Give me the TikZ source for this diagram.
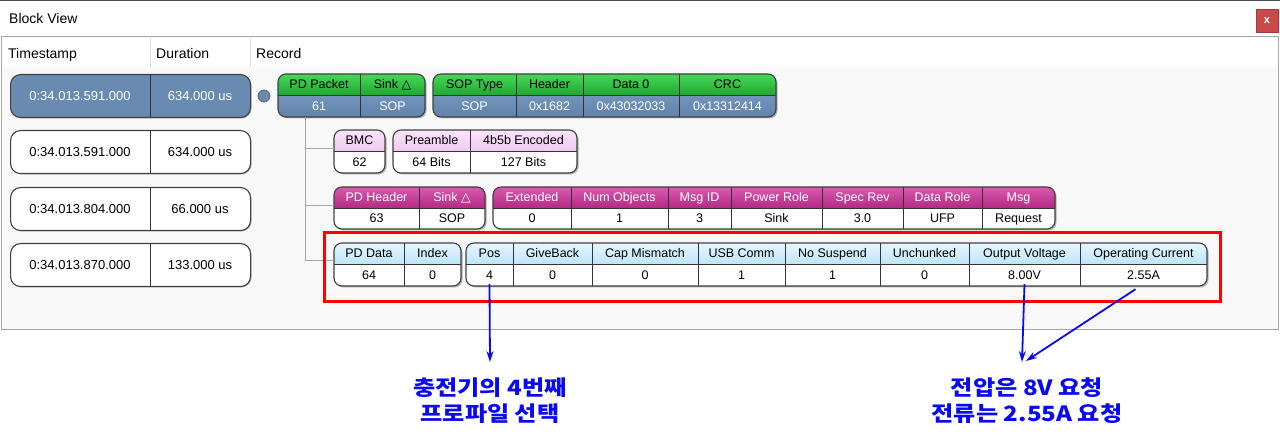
\documentclass[tikz,border=0pt]{standalone}
\usepackage{fontspec}
\setmainfont{Liberation Sans}
\newfontfamily\symfont{DejaVu Sans}
\newfontfamily\krfont{Noto Sans CJK KR}[FakeStretch=1.15]
\usetikzlibrary{arrows.meta}

\definecolor{steel}{HTML}{6A8BB1}
\definecolor{steelA}{HTML}{7393BA}
\definecolor{steelB}{HTML}{6083AB}
\definecolor{greenA}{HTML}{46D856}
\definecolor{greenB}{HTML}{1EA634}
\definecolor{magA}{HTML}{D85AAE}
\definecolor{magB}{HTML}{B42A84}
\definecolor{lavA}{HTML}{FAE4FA}
\definecolor{lavB}{HTML}{EEC8F0}
\definecolor{skyA}{HTML}{E6F6FE}
\definecolor{skyB}{HTML}{BCE4F8}
\definecolor{panelbg}{HTML}{F8F8F8}
\definecolor{closered}{HTML}{C94A4A}
\definecolor{noteblue}{HTML}{0A0AF0}

\tikzset{
  cellline/.style={draw=black!80, line width=0.9pt},
  boxframe/.style={draw=black!75, line width=1.1pt, rounded corners=8},
  boxshadow/.style={fill=black!30, rounded corners=8},
  treeline/.style={draw=black!35, line width=0.8pt},
  celltext/.style={inner sep=0, text height=9pt, text depth=0.5pt, font=\fontsize{12.5}{14}\selectfont},
  % packet row: green head, steel body
  pkthead/.style={top color=greenA, bottom color=greenB},
  pktbody/.style={top color=steelA, bottom color=steelB},
  pkthtext/.style={celltext, text=black},
  pktbtext/.style={celltext, text=white},
  % bmc row: lavender head
  phyhead/.style={top color=lavA, bottom color=lavB},
  phybody/.style={fill=white},
  phyhtext/.style={celltext, text=black},
  phybtext/.style={celltext, text=black},
  % header row: magenta head
  hdrhead/.style={top color=magA, bottom color=magB},
  hdrbody/.style={fill=white},
  hdrhtext/.style={celltext, text=white},
  hdrbtext/.style={celltext, text=black},
  % data row: light blue head
  dathead/.style={top color=skyA, bottom color=skyB},
  datbody/.style={fill=white},
  dathtext/.style={celltext, text=black},
  datbtext/.style={celltext, text=black},
  stampbox/.style={draw=black!75, line width=1.1pt, rounded corners=10, minimum width=240pt, minimum height=43pt, inner sep=0},
  stamptext/.style={inner sep=0, text height=9.5pt, text depth=0pt, font=\fontsize{13}{15}\selectfont},
  colhead/.style={anchor=base west, inner sep=0, font=\fontsize{14}{16}\selectfont},
  note/.style={align=center, inner sep=0, text=noteblue, font=\krfont\bfseries\fontsize{21}{26}\selectfont},
  callout/.style={draw=noteblue, line width=1.8pt, -{Stealth[length=11pt,width=7pt]}}
}

% #1 name, #2 kind, #3 left, #4 right, #5 top, #6 bottom, #7 cells
\newcommand{\recbox}[7]{%
  \fill[boxshadow] (#3+1.5,#5+1.5) rectangle (#4+1.5,#6+1.5);
  \begin{scope}
    \clip[rounded corners=8] (#3,#5) rectangle (#4,#6);
    \path[#2body] (#3,{(#5+#6)/2}) rectangle (#4,#6);
    \shade[#2head] (#3,#5) rectangle (#4,{(#5+#6)/2});
  \end{scope}
  \draw[cellline] (#3,{(#5+#6)/2}) -- (#4,{(#5+#6)/2});
  \foreach \xa/\xb/\th/\tb [count=\i] in {#7} {
    \ifnum\i>1 \draw[cellline] (\xa,#5) -- (\xa,#6); \fi
    \node[#2htext] (#1h\i) at ({(\xa+\xb)/2},{(3*#5+#6)/4}) {\th};
    \node[#2btext] (#1b\i) at ({(\xa+\xb)/2},{(#5+3*#6)/4}) {\tb};
  }
  \draw[boxframe] (#3,#5) rectangle (#4,#6);
  \node[inner sep=0, minimum width={(#4-#3)*1pt}, minimum height={(#6-#5)*1pt}] (#1) at ({(#3+#4)/2},{(#5+#6)/2}) {};
}

\begin{document}
\begin{tikzpicture}[x=1pt, y=-1pt]
\useasboundingbox (0,0) rectangle (1280,446);
\fill[white] (0,0) rectangle (1280,446);

% window
\fill[black!70] (0,0) rectangle (1280,1.5);
\node[colhead] (title) at (9,23.5) {Block View};
\node[fill=closered, draw=closered!80!black, minimum width=22pt, minimum height=23pt, inner sep=0,
      text=white, font=\bfseries\fontsize{11}{12}\selectfont] (close) at (1267,20.5) {x};
\fill[panelbg] (1,37) rectangle (1278,330);
\fill[white] (1,38) rectangle (1278,67);
\draw[black!35, line width=1pt] (1,37) rectangle (1278,330);
\draw[black!12] (150,38) -- (150,67);
\draw[black!12] (250,38) -- (250,67);
\node[colhead] (colts) at (8,58.5) {Timestamp};
\node[colhead] (coldu) at (156,58.5) {Duration};
\node[colhead] (colrec) at (256,58.5) {Record};

% Timestamp / Duration rows
\foreach \ty/\ts/\du/\bg/\fg [count=\i] in {74/0:34.013.591.000/634.000 us/steel/white,
    130/0:34.013.591.000/634.000 us/white/black,
    187/0:34.013.804.000/66.000 us/white/black,
    243/0:34.013.870.000/133.000 us/white/black} {
  \fill[boxshadow, rounded corners=10] (11.5,\ty+1.5) rectangle (251.5,\ty+44.5);
  \node[stampbox, fill=\bg, anchor=north west] (row\i) at (10,\ty) {};
  \draw[cellline] (150,\ty) -- (150,\ty+43);
  \node[stamptext, text=\fg] (ts\i) at (80,\ty+21.5) {\ts};
  \node[stamptext, text=\fg] (du\i) at (200,\ty+21.5) {\du};
}

\node[circle, fill=steel, draw=black!60, line width=0.8pt, minimum size=12pt, inner sep=0] (dot) at (264,96) {};

% Record blocks
\recbox{pkt}{pkt}{278}{425}{74}{117}{278/360/PD Packet/61, 360/425/Sink {\symfont △}/SOP}
\recbox{sop}{pkt}{433}{776}{74}{117}{433/516/SOP Type/SOP, 516/583/Header/0x1682, 583/679/Data 0/0x43032033, 679/776/CRC/0x13312414}
\recbox{bmc}{phy}{334}{385}{130}{173}{334/385/BMC/62}
\recbox{pre}{phy}{393}{577}{130}{173}{393/470/Preamble/64 Bits, 470/577/4b5b Encoded/127 Bits}
\recbox{hdr}{hdr}{334}{485}{187}{229}{334/419/PD Header/63, 419/485/Sink {\symfont △}/SOP}
\recbox{msg}{hdr}{493}{1055}{187}{229}{493/571/Extended/0, 571/668/Num Objects/1, 668/731/Msg ID/3, 731/822/Power Role/Sink, 822/903/Spec Rev/3.0, 903/982/Data Role/UFP, 982/1055/Msg/Request}
\recbox{dat}{dat}{334}{461}{243}{286}{334/404/PD Data/64, 404/461/Index/0}
\recbox{pos}{dat}{466}{1207}{243}{286}{466/513/Pos/4, 513/592/GiveBack/0, 592/698/Cap Mismatch/0, 698/785/USB Comm/1, 785/880/No Suspend/1, 880/969/Unchunked/0, 969/1080/Output Voltage/8.00V, 1080/1207/Operating Current/2.55A}

% tree
\coordinate (trunk) at ([xshift=28pt]pkt.south west);
\draw[treeline] (trunk) |- ([yshift=3pt]bmc.west);
\draw[treeline] (trunk) |- ([yshift=3pt]hdr.west);
\draw[treeline] (trunk) |- ([yshift=4pt]dat.west);

% highlight
\draw[red, line width=3pt] (324,233) rectangle (1220,302);

% notes
\node[note] (lbl1) at (490,401) {충전기의 4번째\\프로파일 선택};
\node[note] (lbl2) at (1027,401) {전압은 8V 요청\\전류는 2.55A 요청};
\coordinate (tip1) at (490,362);
\coordinate (tip2) at (1022,362);
\coordinate (tip3) at (1026,361);
\draw[callout] ([yshift=-4pt]posb1.south) -- (tip1);
\draw[callout] ([yshift=-4pt]posb7.south) -- (tip2);
\draw[callout] ([yshift=-9pt,xshift=-8pt]posb8.south) -- (tip3);
\end{tikzpicture}
\end{document}
